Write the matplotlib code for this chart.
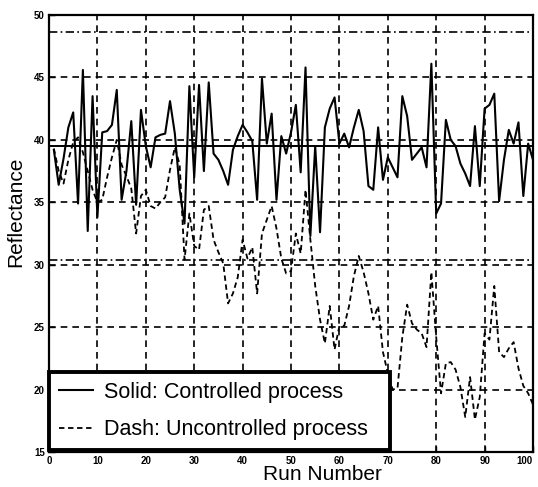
import numpy as np
import matplotlib
matplotlib.use('Agg')
import matplotlib.pyplot as plt

plt.rcParams['font.family'] = ['Liberation Sans', 'DejaVu Sans']

# run numbers 1..100
runs = list(range(1, 101))

# controlled process (solid)
controlled = [39.2, 36.4, 38.5, 41.0, 42.2, 34.9, 45.6, 32.7, 43.5, 33.8,
              40.6, 40.7, 41.2, 44.0, 35.2, 37.5, 41.5, 34.8, 42.4, 39.5,
              37.8, 40.2, 40.4, 40.5, 43.1, 40.5, 36.0, 33.3, 44.3, 37.0,
              44.4, 37.5, 44.6, 38.9, 38.4, 37.5, 36.4, 39.2, 40.3, 41.2,
              40.6, 39.9, 35.2, 44.9, 39.7, 42.1, 35.2, 40.3, 38.9, 40.6,
              42.8, 37.4, 45.8, 32.3, 39.5, 32.6, 41.0, 42.5, 43.4, 39.7,
              40.5, 39.4, 41.0, 42.4, 40.7, 36.3, 36.0, 41.0, 36.8, 38.6,
              37.8, 37.0, 43.5, 41.9, 38.4, 38.9, 39.4, 37.8, 46.1, 34.1,
              34.9, 41.6, 40.0, 39.5, 38.1, 37.3, 36.3, 41.1, 36.3, 42.5,
              42.8, 43.7, 35.1, 38.4, 40.8, 39.7, 41.4, 35.5, 39.7, 38.4]

# uncontrolled process (dashed)
uncontrolled = [39.3, 37.5, 36.5, 38.4, 39.8, 40.2, 39.0, 37.5, 36.0, 35.0,
                35.2, 37.0, 38.6, 40.0, 38.0, 37.1, 36.1, 32.5, 35.5, 36.0,
                34.7, 34.5, 35.0, 35.4, 37.6, 39.4, 38.0, 30.4, 34.1, 31.5,
                31.2, 34.4, 34.7, 32.0, 31.0, 30.1, 26.9, 27.7, 29.0, 32.0,
                30.5, 31.4, 27.7, 32.5, 33.6, 34.7, 32.9, 30.5, 29.3, 29.5,
                32.5, 30.9, 36.0, 32.0, 28.3, 25.6, 23.7, 26.7, 23.2, 25.1,
                25.1, 26.7, 29.1, 30.7, 29.4, 27.7, 25.6, 26.7, 23.0, 21.3,
                20.0, 20.1, 24.2, 26.8, 25.3, 24.8, 24.5, 23.4, 29.4, 24.2,
                19.7, 22.1, 22.2, 21.6, 20.2, 17.8, 21.0, 17.6, 19.4, 24.5,
                24.0, 28.3, 23.0, 22.6, 23.3, 23.8, 21.7, 20.3, 19.7, 18.8]

# control chart lines
center_line = 39.5
upper_limit = 48.6
lower_limit = 30.4

xticks = [0, 10, 20, 30, 40, 50, 60, 70, 80, 90, 100]
yticks = [15, 20, 25, 30, 35, 40, 45, 50]

fig = plt.figure(figsize=(5.38, 4.87), dpi=100)
ax = fig.add_axes([0.0911, 0.0719, 0.8996, 0.8973])

# grid
for x in xticks[1:-1]:
    ax.axvline(x, color='k', lw=1.2, ls=(0, (4, 3)), zorder=1)
for y in yticks[1:-1]:
    ax.axhline(y, color='k', lw=1.2, ls=(0, (4, 3)), zorder=1)

ax.axhline(upper_limit, color='k', lw=1.2, ls=(0, (5, 2, 1, 2)), zorder=1)
ax.axhline(lower_limit, color='k', lw=1.2, ls=(0, (5, 2, 1, 2)), zorder=1)
ax.axhline(center_line, color='k', lw=1.4, zorder=1)

ax.plot(runs, uncontrolled, color='k', lw=1.3, ls=(0, (3, 2)), zorder=2,
        label='Dash: Uncontrolled process')
ax.plot(runs, controlled, color='k', lw=1.5, zorder=3,
        label='Solid: Controlled process')

ax.set_xlim(0, 100)
ax.set_ylim(15, 50)
ax.set_xticks(xticks)
ax.set_yticks(yticks)
ax.tick_params(direction='in', length=4, width=1, labelsize=7, pad=3)
for lbl in ax.get_xticklabels() + ax.get_yticklabels():
    lbl.set_fontweight('bold')
ax.get_xticklabels()[-1].set_horizontalalignment('right')
for s in ax.spines.values():
    s.set_linewidth(1.6)

ax.set_xlabel('Run Number', fontsize=15)
ax.xaxis.set_label_coords(0.565, -0.03)
ax.set_ylabel('Reflectance', fontsize=15)
ax.yaxis.set_label_coords(-0.05, 0.55)

handles, labels = ax.get_legend_handles_labels()
leg = ax.legend(handles[::-1], labels[::-1], loc='lower left',
                bbox_to_anchor=(0.0, 0.005, 0.705, 0.18), mode='expand',
                fontsize=15.5, frameon=True,
                fancybox=False, edgecolor='k', framealpha=1,
                handlelength=1.6, handletextpad=0.5, borderpad=0.45,
                labelspacing=0.75, borderaxespad=0.0)
leg.get_frame().set_linewidth(2.8)
leg.set_zorder(5)

plt.savefig('out.png', dpi=100)
